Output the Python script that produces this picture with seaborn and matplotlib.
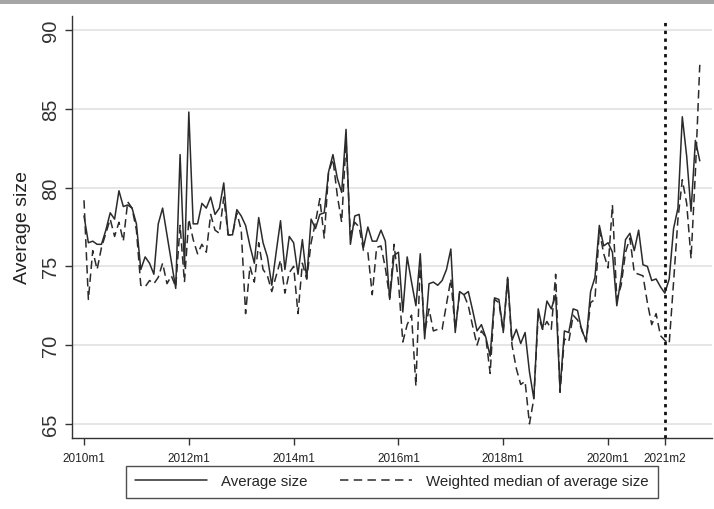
import numpy as np
import pandas as pd
import matplotlib
matplotlib.use("Agg")
import matplotlib.pyplot as plt
from matplotlib.lines import Line2D
from matplotlib.patches import Rectangle
import seaborn as sns

# Monthly series, 2010m1 .. 2021m10
average_size = [
    78.2, 76.5, 76.6, 76.4, 76.4, 77.3, 78.4, 78.0, 79.8, 78.8, 78.9, 78.7,
    77.7, 74.8, 75.6, 75.2, 74.5, 77.7, 78.7, 77.0, 75.3, 73.6, 82.1, 75.0,
    84.8, 77.7, 77.7, 79.0, 78.7, 79.4, 78.3, 78.7, 80.3, 77.0, 77.0, 78.6,
    78.2, 77.6, 76.3, 75.2, 78.1, 76.5, 75.6, 73.8, 75.9, 77.9, 74.8, 76.9,
    76.5, 74.5, 76.7, 74.2, 78.0, 77.4, 78.3, 78.4, 81.0, 82.1, 80.6, 79.7,
    83.7, 76.4, 78.2, 78.3, 76.2, 77.5, 76.6, 76.6, 77.3, 76.6, 72.9, 75.7,
    75.9, 72.1, 75.6, 74.0, 72.5, 75.8, 70.4, 73.9, 74.0, 73.8, 74.1, 74.8,
    76.1, 70.8, 73.4, 73.2, 73.4, 72.2, 70.9, 71.3, 70.5, 69.3, 73.0, 72.9,
    70.9, 74.3, 70.3, 71.0, 70.1, 70.8, 68.3, 66.6, 72.3, 71.0, 72.8, 72.3,
    73.2, 67.2, 70.9, 70.8, 72.3, 72.2, 70.9, 70.3, 73.4, 74.3, 77.6, 76.3,
    76.5, 75.9, 72.5, 74.3, 76.7, 77.1, 76.0, 77.3, 75.1, 75.0, 74.1, 74.2,
    73.7, 73.3, 74.2, 77.4, 78.7, 84.5, 82.0, 78.5, 83.0, 81.7,
]
weighted_median = [
    79.2, 72.9, 76.0, 74.8, 76.2, 77.1, 78.0, 76.9, 77.8, 76.6, 79.1, 78.7,
    77.3, 73.8, 73.7, 74.1, 73.9, 74.3, 75.2, 73.9, 74.4, 73.7, 77.6, 74.0,
    78.0, 76.7, 75.8, 76.4, 75.9, 78.3, 77.3, 77.1, 79.4, 77.0, 77.0, 78.4,
    77.3, 72.0, 75.0, 74.0, 76.5, 74.8, 74.4, 73.4, 74.4, 75.4, 73.3, 74.6,
    75.0, 72.0, 75.2, 74.2, 76.5, 77.8, 79.3, 76.8, 81.0, 81.8, 79.5, 77.8,
    83.0, 77.0, 77.8, 77.5, 76.0, 75.9, 73.2, 76.2, 76.3, 74.9, 73.0, 76.4,
    74.0, 70.2, 71.3, 71.9, 67.4, 75.3, 70.8, 72.3, 70.9, 71.0, 71.0, 72.6,
    74.2, 71.0, 73.3, 73.2, 72.5, 71.2, 70.0, 70.9, 70.5, 68.2, 72.9, 72.7,
    70.8, 74.2, 70.0, 68.5, 67.5, 67.7, 65.0, 66.6, 71.9, 71.0, 71.5, 71.0,
    74.5, 67.0, 70.4, 70.2, 71.9, 71.6, 71.0, 70.2, 72.7, 72.9, 77.3, 75.8,
    74.9, 78.9, 72.9, 73.8, 75.9, 76.8, 74.6, 74.5, 74.4, 72.7, 71.3, 72.0,
    70.6, 70.3, 70.1, 74.0, 78.0, 80.5, 79.0, 75.5, 81.0, 87.8,
]
tick_months = [0, 24, 48, 72, 96, 120, 133]
tick_labels = ["2010m1", "2012m1", "2014m1", "2016m1", "2018m1", "2020m1", "2021m2"]
y_ticks = [65, 70, 75, 80, 85, 90]
event_month = 133  # 2021m2

months = np.arange(len(average_size))
df = pd.DataFrame({
    "month": np.concatenate([months, months]),
    "value": average_size + weighted_median,
    "series": ["Average size"] * len(months) + ["Weighted median of average size"] * len(months),
})

sns.set_theme(style="white")
plt.rcParams["font.family"] = ["Liberation Sans Narrow", "Liberation Sans", "DejaVu Sans"]

fig = plt.figure(figsize=(7.14, 5.10), dpi=100)
ax = fig.add_axes([72 / 714, 71 / 510, 640 / 714, 422 / 510])

line_col = "#2b2b2b"
sns.lineplot(data=df[df.series == "Average size"], x="month", y="value",
             color=line_col, linewidth=1.1, ax=ax, legend=False)
sns.lineplot(data=df[df.series != "Average size"], x="month", y="value",
             color=line_col, linewidth=1.1, ax=ax, legend=False)
ax.lines[1].set_dashes([5.5, 3])

ax.axvline(event_month, ymin=0, ymax=0.985, color="#111111",
           linestyle=(0, (1.2, 1.6)), linewidth=2.0, zorder=5)

ax.set_xlim(-2.75, 143.8)
ax.set_ylim(64.1, 90.9)
ax.set_yticks(y_ticks)
ax.set_yticklabels([str(v) for v in y_ticks], rotation=90, va="center",
                   fontsize=14.5, family=["Liberation Sans", "DejaVu Sans"], color="#333333")
ax.set_xticks(tick_months)
ax.set_xticklabels(tick_labels, fontsize=8.5, color="#222222")
ax.set_xlabel("")
ax.set_ylabel("Average size", fontsize=14, family=["Liberation Sans", "DejaVu Sans"],
              color="#222222", labelpad=7)

for v in y_ticks:
    ax.axhline(v, color="#e6e6e6", linewidth=1.4, zorder=0)

for side in ["top", "right"]:
    ax.spines[side].set_visible(False)
for side in ["left", "bottom"]:
    ax.spines[side].set_color("#333333")
    ax.spines[side].set_linewidth(1.0)
ax.tick_params(axis="both", direction="out", length=5, width=1.0, color="#333333", left=True, bottom=True)
ax.tick_params(axis="x", pad=5)

handles = [
    Line2D([0], [0], color=line_col, linewidth=1.1),
    Line2D([0], [0], color=line_col, linewidth=1.1, dashes=[5.5, 3.5]),
]
leg = fig.legend(handles, ["Average size", "Weighted median of average size"],
                 loc="center", bbox_to_anchor=(392 / 714, 1 - 482.5 / 510), ncol=2,
                 frameon=True, fancybox=False, fontsize=10.8, handlelength=4.8,
                 columnspacing=2.2, borderpad=0.6, handletextpad=0.9)
leg.get_frame().set_edgecolor("#222222")
leg.get_frame().set_linewidth(1.0)

# thin grey band across the top edge
fig.patches.append(Rectangle((0, 1 - 5 / 510), 1, 5 / 510, transform=fig.transFigure,
                             facecolor="#a6a6a6", edgecolor="none"))

fig.savefig("out.png", dpi=100)
